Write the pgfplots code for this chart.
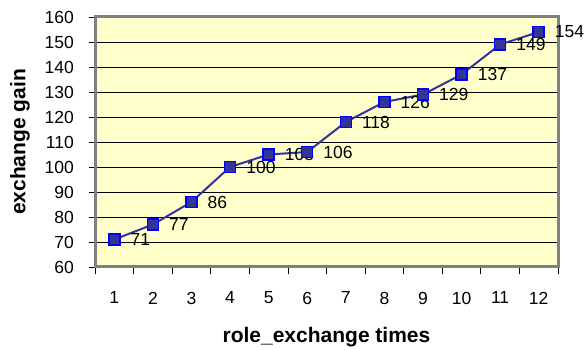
\documentclass[border=0pt]{standalone}
\usepackage{fontspec}
\setmainfont{Liberation Sans}
\usepackage{pgfplots}
\pgfplotsset{compat=1.18}
\definecolor{plotbg}{HTML}{FFFFCC}
\definecolor{linec}{HTML}{333399}
\definecolor{bordc}{HTML}{808080}
\begin{document}
\begin{tikzpicture}
\useasboundingbox (0,0) rectangle (586pt,350pt);
\begin{axis}[
  at={(95pt,83pt)}, anchor=south west,
  scale only axis, width=463pt, height=250pt,
  xmin=0.5, xmax=12.5, ymin=60, ymax=160,
  xtick={1,...,12}, ytick={60,70,...,160},
  minor xtick={0.5,1.5,...,12.5},
  tick pos=left,
  tick align=outside,
  major tick length=6pt, minor tick length=7pt,
  major x tick style={draw=none},
  minor x tick style={black, line width=0.8pt},
  major y tick style={black, line width=0.8pt},
  ymajorgrids, grid style={black, line width=0.8pt},
  axis line style={bordc, line width=3pt},
  axis background/.style={fill=plotbg},
  /pgf/number format/assume math mode=true,
  ticklabel style={font=\fontsize{17.5}{18}\selectfont, inner sep=0pt},
  xticklabel style={anchor=north, yshift=-18.75pt},
  yticklabel style={anchor=east, xshift=-15pt},
  xlabel={role\_exchange times}, ylabel={exchange gain},
  label style={font=\bfseries\fontsize{21}{24}\selectfont},
  xlabel style={at={(axis description cs:0.5,-0.28)}, anchor=center},
  ylabel style={at={(axis description cs:-0.162,0.5)}, anchor=center},
  clip=false,
  nodes near coords,
  nodes near coords style={anchor=west, inner sep=0pt, xshift=15.5pt, font=\fontsize{17.5}{18}\selectfont, text=black},
]
\addplot[linec, line width=2pt, mark=square*, mark size=5.5pt, mark options={draw=blue, fill=linec, line width=1.5pt}] coordinates {(1,71)(2,77)(3,86)(4,100)(5,105)(6,106)(7,118)(8,126)(9,129)(10,137)(11,149)(12,154)};
\end{axis}
\end{tikzpicture}
\end{document}
